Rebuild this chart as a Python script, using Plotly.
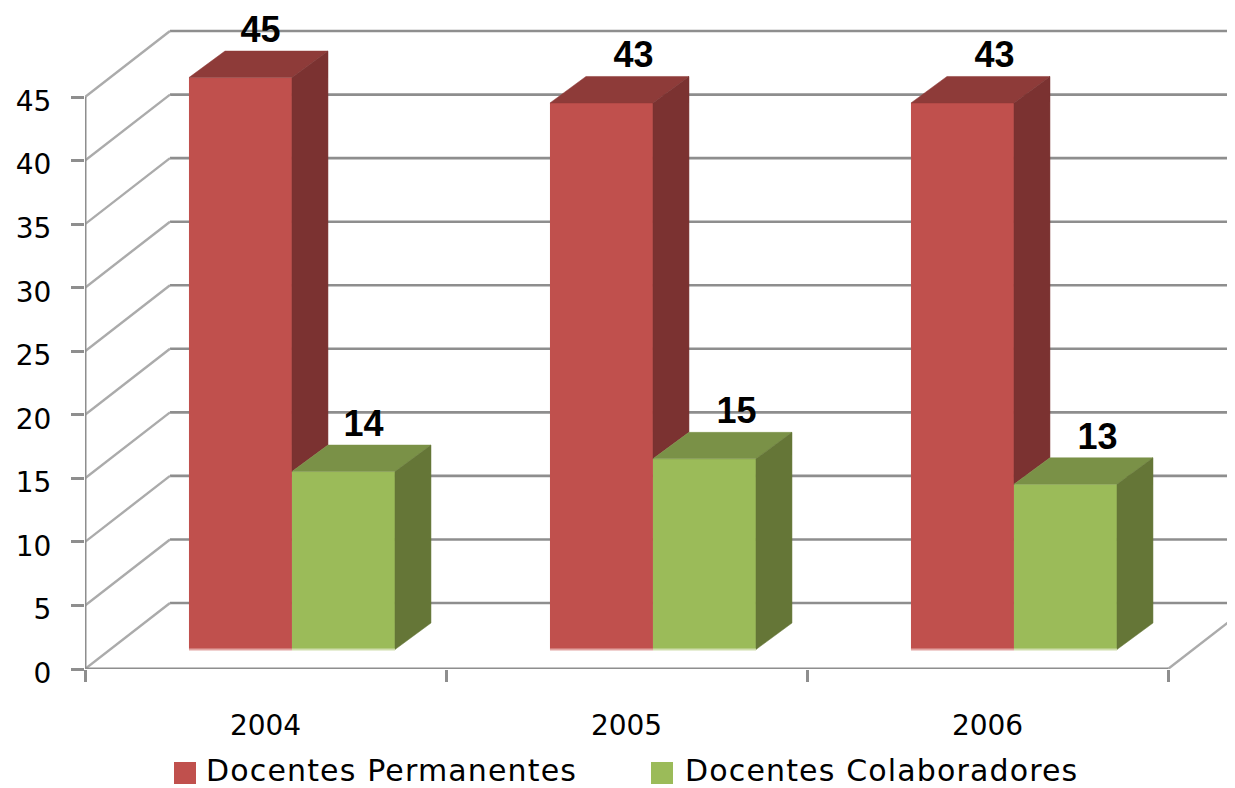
import plotly.graph_objects as go

years = ["2004", "2005", "2006"]
permanentes = [45, 43, 43]
colaboradores = [14, 15, 13]
y_ticks = [0, 5, 10, 15, 20, 25, 30, 35, 40, 45]

W, H = 1235, 788
PAGE = 8  # page margin around the figure
L, AXIS_Y = 85, 669
PX_X, PX_Y = 361, 12.71
xmax = (W - L) / PX_X
ymax = (AXIS_Y - PAGE) / PX_Y

# projected-depth constants (data units)
WALL_DX, WALL_DY = 85 / PX_X, 66 / PX_Y
BAR_DX, BAR_DY = 36 / PX_X, 26.5 / PX_Y
FLOOR = 19.5 / PX_Y
BAR_W = 103 / PX_X
OFF_R = -0.212
OFF_G = OFF_R + BAR_W
LABEL_NUDGE = [2, 14, 14]  # px, per category

RED, RED_TOP, RED_SIDE = "#C0504D", "#8E3B39", "#7B3231"
GRN, GRN_TOP, GRN_SIDE = "#9BBB59", "#7A9147", "#657637"
AXC = "#8E8E8E"

centers = [i + 0.5 for i in range(len(years))]
shapes = []


def line(x0, y0, x1, y1, color=AXC, width=2.6, layer="below"):
    shapes.append(dict(type="line", x0=x0, y0=y0, x1=x1, y1=y1, xref="x", yref="y",
                       layer=layer, line=dict(color=color, width=width)))


for v in y_ticks:
    line(WALL_DX, v + WALL_DY, xmax + 0.1, v + WALL_DY)
    line(0, v, WALL_DX, v + WALL_DY, color="#ABABAB", width=2.4)
line(3, 0, 3 + WALL_DX, WALL_DY, color="#ABABAB", width=2.4)
line(0, 0, 0, 45, width=3)
line(0, 0, 3, 0, width=3)

fig = go.Figure()
fig.add_bar(x=centers, y=permanentes, base=FLOOR, width=BAR_W, offset=OFF_R,
            marker=dict(color=RED, line_width=0), name="Docentes Permanentes", showlegend=False)
fig.add_bar(x=centers, y=colaboradores, base=FLOOR, width=BAR_W, offset=OFF_G,
            marker=dict(color=GRN, line_width=0), name="Docentes Colaboradores", showlegend=False)


def poly(xs, ys, color):
    fig.add_scatter(x=xs, y=ys, mode="lines", fill="toself", fillcolor=color,
                    line=dict(color=color, width=0.5), hoverinfo="skip", showlegend=False)


for c, r, g in zip(centers, permanentes, colaboradores):
    xl = c + OFF_R
    xm = xl + BAR_W
    xr = xm + BAR_W
    rt, gt = FLOOR + r, FLOOR + g
    # red bar: top face and the part of the side face visible above the green bar
    poly([xl, xl + BAR_DX, xm + BAR_DX, xm, xl], [rt, rt + BAR_DY, rt + BAR_DY, rt, rt], RED_TOP)
    poly([xm, xm + BAR_DX, xm + BAR_DX, xm, xm],
         [rt, rt + BAR_DY, gt + BAR_DY, gt, rt], RED_SIDE)
    # green bar: top and side faces
    poly([xm, xm + BAR_DX, xr + BAR_DX, xr, xm], [gt, gt + BAR_DY, gt + BAR_DY, gt, gt], GRN_TOP)
    poly([xr, xr + BAR_DX, xr + BAR_DX, xr, xr],
         [gt, gt + BAR_DY, FLOOR + BAR_DY, FLOOR, gt], GRN_SIDE)
    line(xl, FLOOR, xm, FLOOR, color="#E2A3A1", width=2, layer="above")
    line(xm, FLOOR, xr, FLOOR, color="#CFDDAC", width=2, layer="above")

LABEL_DY = 18 / PX_Y
fig.add_scatter(
    x=[c + OFF_R + BAR_W / 2 + BAR_DX / 2 + n / PX_X for c, n in zip(centers, LABEL_NUDGE)]
      + [c + OFF_G + BAR_W / 2 + BAR_DX / 2 + n / PX_X for c, n in zip(centers, LABEL_NUDGE)],
    y=[FLOOR + v + BAR_DY + LABEL_DY for v in permanentes + colaboradores],
    text=[str(v) for v in permanentes + colaboradores],
    mode="text", textposition="middle center", cliponaxis=False,
    textfont=dict(family="Liberation Sans", size=36, color="#000000", weight="bold"),
    hoverinfo="skip", showlegend=False,
)

# legend
annotations = []
plot_h = AXIS_Y - PAGE
for name, color, sx, tx in [("Docentes Permanentes", RED, 174, 207),
                            ("Docentes Colaboradores", GRN, 651, 686)]:
    shapes.append(dict(type="rect", xref="paper", yref="paper", layer="above",
                       x0=(sx - L) / (W - L), x1=(sx + 22 - L) / (W - L),
                       y0=(AXIS_Y - 784) / plot_h, y1=(AXIS_Y - 762) / plot_h,
                       fillcolor=color, line_width=0))
    annotations.append(dict(text=f'<span style="letter-spacing:1.15px">{name}</span>',
                            xref="paper", yref="paper", showarrow=False,
                            x=(tx - L) / (W - L), xanchor="left", xshift=-3,
                            y=(AXIS_Y - 770) / plot_h, yanchor="middle",
                            font=dict(family="DejaVu Sans", size=30, color="#000000")))

fig.update_layout(
    width=W - PAGE, height=H - PAGE,
    margin=dict(l=L - PAGE, r=0, t=0, b=H - AXIS_Y, pad=0),
    paper_bgcolor="white", plot_bgcolor="white", barmode="overlay",
    shapes=shapes, annotations=annotations, showlegend=False,
    xaxis=dict(range=[0, xmax], tickmode="array", tickvals=centers, ticktext=years,
               ticks="", showgrid=False, zeroline=False, showline=False,
               ticklabelstandoff=37,
               tickfont=dict(family="DejaVu Sans", size=28, color="#000000"),
               minor=dict(tickmode="array", tickvals=[0, 1, 2, 3], ticks="outside", ticklen=12,
                          tickwidth=3, tickcolor=AXC, showgrid=False)),
    yaxis=dict(range=[0, ymax], tickmode="array", tickvals=y_ticks, ticks="outside",
               ticklen=13, tickwidth=3, tickcolor=AXC, showgrid=False, zeroline=False,
               showline=False, ticklabelstandoff=14, ticklabelshift=4,
               tickfont=dict(family="DejaVu Sans", size=28, color="#000000")),
)

fig.write_html("out.html")
